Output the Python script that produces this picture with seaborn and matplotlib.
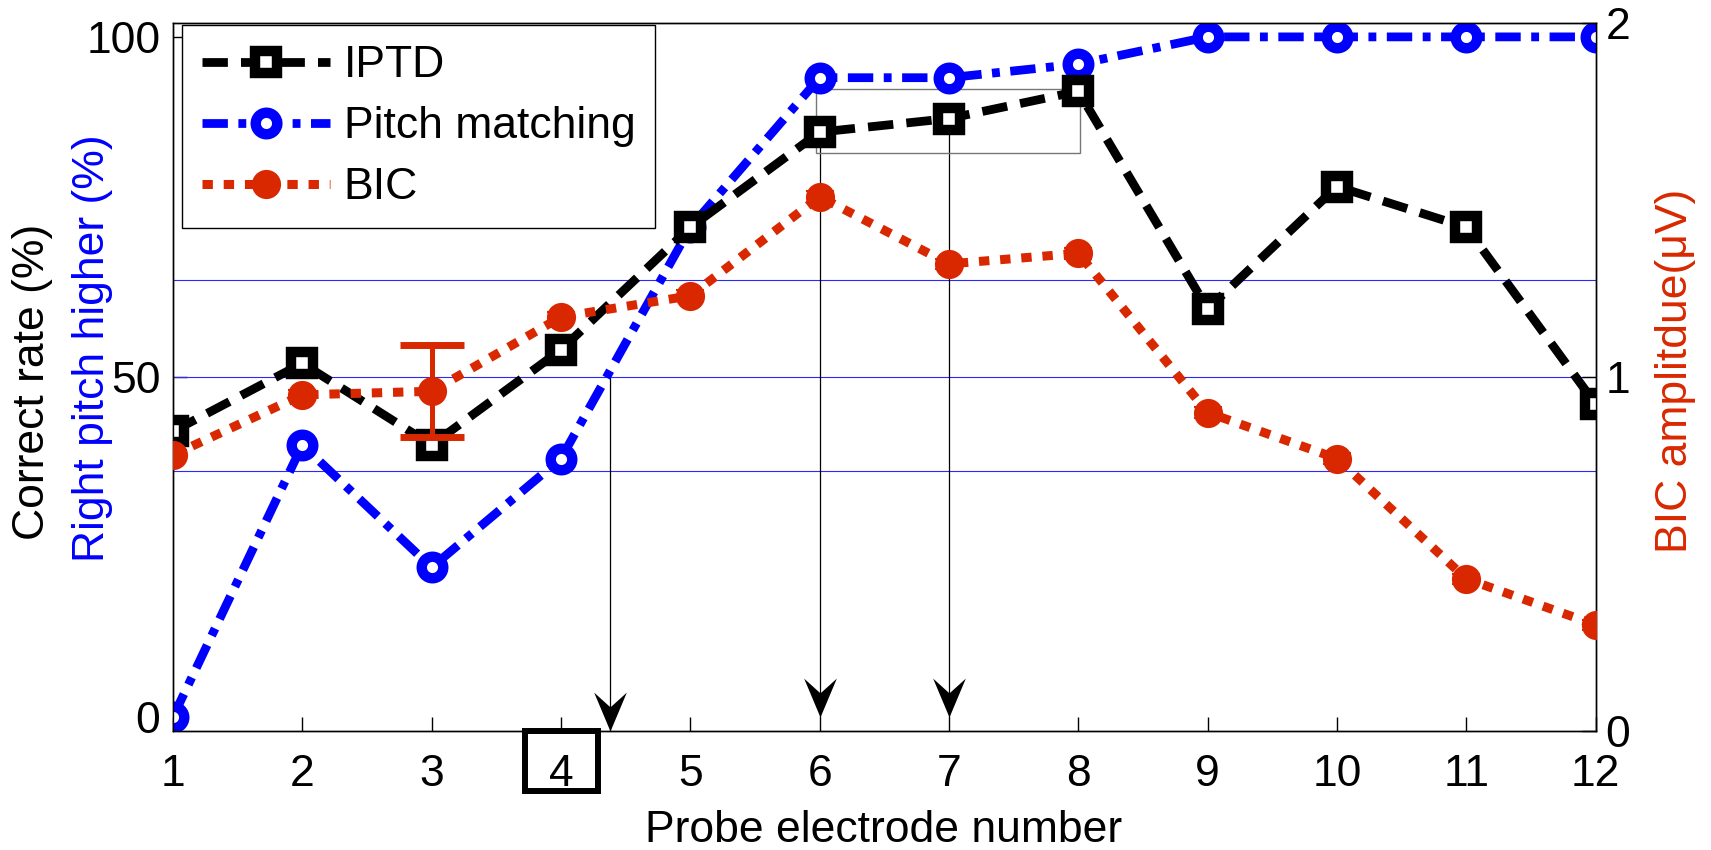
import numpy as np
import matplotlib
matplotlib.use("Agg")
import matplotlib.pyplot as plt
import matplotlib.transforms as mtransforms
from matplotlib.lines import Line2D
from matplotlib.path import Path
from matplotlib.patches import Rectangle
import seaborn as sns

# ---- data -------------------------------------------------------------
electrodes = np.arange(1, 13)
iptd = [42, 52, 40, 54, 72, 86, 88, 92, 60, 78, 72, 46]          # correct rate (%)
pitch = [0, 40, 22, 38, 72, 94, 94, 96, 100, 100, 100, 100]      # right pitch higher (%)
bic = [0.78, 0.95, 0.96, 1.17, 1.23, 1.51, 1.32, 1.35, 0.90, 0.77, 0.43, 0.30]  # uV
bic_err = [0.015, 0.015, 0.13, 0.015, 0.015, 0.015, 0.015, 0.015, 0.015, 0.015, 0.015, 0.015]

ref_levels = [36.2, 50, 64.2]          # horizontal reference lines (left axis, %)
arrow_x = [4.38, 6, 7]                 # marked electrode positions
arrow_from = [50, 86, 88]              # start of each marker line (left axis, %)
arrow_to = [-2.06, 0, 0]               # arrow tip (left axis, %)
zoom_box = (5.97, 83.0, 8.01, 92.3)    # x0, y0, x1, y1 of the highlighted region

BLUE = "#0000FF"
RED = "#D92800"

sns.set_style("white")
plt.rcParams["font.family"] = ["Liberation Sans", "DejaVu Sans"]
plt.rcParams["font.size"] = 32
for key in ("text.color", "axes.labelcolor", "xtick.color", "ytick.color",
            "axes.edgecolor"):
    plt.rcParams[key] = "black"

fig = plt.figure(figsize=(17.11, 8.5), dpi=100)
ax = fig.add_axes([0.1011, 0.14, 0.9326 - 0.1011, 0.9726 - 0.14])
ax2 = ax.twinx()

# reference lines
for lv in ref_levels:
    ax.axhline(lv, color="#2a2aff", lw=0.8, zorder=1)

# vertical marker lines with concave arrow heads
head = Path([(0, 0), (-0.42, 1.0), (0, 0.62), (0.42, 1.0), (0, 0)],
            [Path.MOVETO, Path.LINETO, Path.LINETO, Path.LINETO, Path.CLOSEPOLY])
for xa, y0, y1 in zip(arrow_x, arrow_from, arrow_to):
    ax.plot([xa, xa], [y0, y1], color="black", lw=0.9, zorder=2)
    ax.plot([xa], [y1], marker=head, ms=56, color="black", mew=0,
            clip_on=False, zorder=6)

# highlighted region
x0, y0, x1, y1 = zoom_box
ax.add_patch(Rectangle((x0, y0), x1 - x0, y1 - y0, fill=False,
                       edgecolor="#777777", lw=1.0, zorder=2))

# style of each series
iptd_style = dict(color="black", lw=6.3, marker="s", ms=16, mfc="white",
                  mec="black", mew=7.5)
pitch_style = dict(color=BLUE, lw=6.3, marker="o", ms=15.5, mfc="white",
                   mec=BLUE, mew=7.5)
bic_style = dict(color=RED, lw=6.5, marker="o", ms=21, mfc=RED, mec=RED, mew=0)
iptd_dash = [2.9, 1.5]
pitch_dash = [2.9, 1.2, 0.9, 1.2]
bic_dash = [1.15, 1.2]

# pitch matching (blue dash-dot, open circles)
sns.lineplot(x=electrodes, y=pitch, ax=ax, legend=False, zorder=3, **pitch_style)
ax.lines[-1].set_dashes(pitch_dash)

# IPTD (black dashed, open squares)
sns.lineplot(x=electrodes, y=iptd, ax=ax, legend=False, zorder=4, **iptd_style)
ax.lines[-1].set_dashes(iptd_dash)

# BIC amplitude on the right axis (red dotted, filled dots, error bars)
err = np.asarray(bic_err)
big = err > 0.05
ax2.errorbar(electrodes[big], np.asarray(bic)[big], yerr=err[big], fmt="none",
             ecolor=RED, elinewidth=3.6, capsize=23, capthick=5, zorder=3)
ax2.errorbar(electrodes[~big], np.asarray(bic)[~big], yerr=err[~big],
             fmt="none", ecolor=RED, elinewidth=2, capsize=10, capthick=1.5,
             zorder=3)
sns.lineplot(x=electrodes, y=bic, ax=ax2, legend=False, zorder=4, **bic_style)
ax2.lines[-1].set_dashes(bic_dash)

# axes limits and ticks
ax.set_xlim(1, 12)
ax.set_xticks(electrodes)
ax.set_ylim(-2.06, 102.0)
ax.set_yticks([0, 50, 100])
ax2.set_ylim(0, 2)
ax2.set_yticks([0, 1, 2])
ax.set_xlabel("")
ax.set_ylabel("")
ax2.set_ylabel("")

ax.tick_params(axis="x", direction="in", length=10, width=1, pad=16.5,
               labelsize=32, bottom=True, top=False, colors="black")
ax.tick_params(axis="y", direction="in", length=10, width=1, pad=9,
               labelsize=32, left=True, right=False, colors="black")
ax2.tick_params(axis="y", direction="in", length=10, width=1, pad=7,
                labelsize=32, right=True, left=False, colors="black")
for a in (ax, ax2):
    for s in a.spines.values():
        s.set_color("black")
        s.set_linewidth(1.0)

# box around electrode 4 label
trans = mtransforms.blended_transform_factory(ax.transData, ax.transAxes)
ax.add_patch(Rectangle((3.72, -0.0848), 0.57, 0.0848, transform=trans,
                       fill=False, edgecolor="black", lw=4.3, clip_on=False,
                       zorder=7))

# axis titles
fig.text(884 / 1711, 1 - 842 / 850, "Probe electrode number",
         ha="center", va="baseline", fontsize=32)
fig.text(33 / 1711, 1 - 382 / 850, "Correct rate (%)", rotation=90,
         ha="center", va="center", fontsize=32, color="black")
fig.text(93 / 1711, 1 - 348 / 850, "Right pitch higher (%)", rotation=90,
         ha="center", va="center", fontsize=32, color=BLUE)
fig.text(1675 / 1711, 1 - 371 / 850, "BIC amplitdue(μV)", rotation=90,
         ha="center", va="center", fontsize=32, color=RED)

# legend
handles = [
    Line2D([], [], dashes=iptd_dash, **iptd_style),
    Line2D([], [], dashes=pitch_dash, **pitch_style),
    Line2D([], [], dashes=bic_dash, **bic_style),
]
leg = ax2.legend(handles, ["IPTD", "Pitch matching", "BIC"],
                 loc="upper left", bbox_to_anchor=(0.006, 0.997),
                 borderaxespad=0, fontsize=32, handlelength=2.9,
                 handletextpad=0.3, borderpad=0.45, labelspacing=0.45,
                 numpoints=1, fancybox=False, framealpha=1,
                 edgecolor="black")
leg.get_frame().set_linewidth(1.0)
leg.set_zorder(10)

fig.savefig("out.png", dpi=100)
